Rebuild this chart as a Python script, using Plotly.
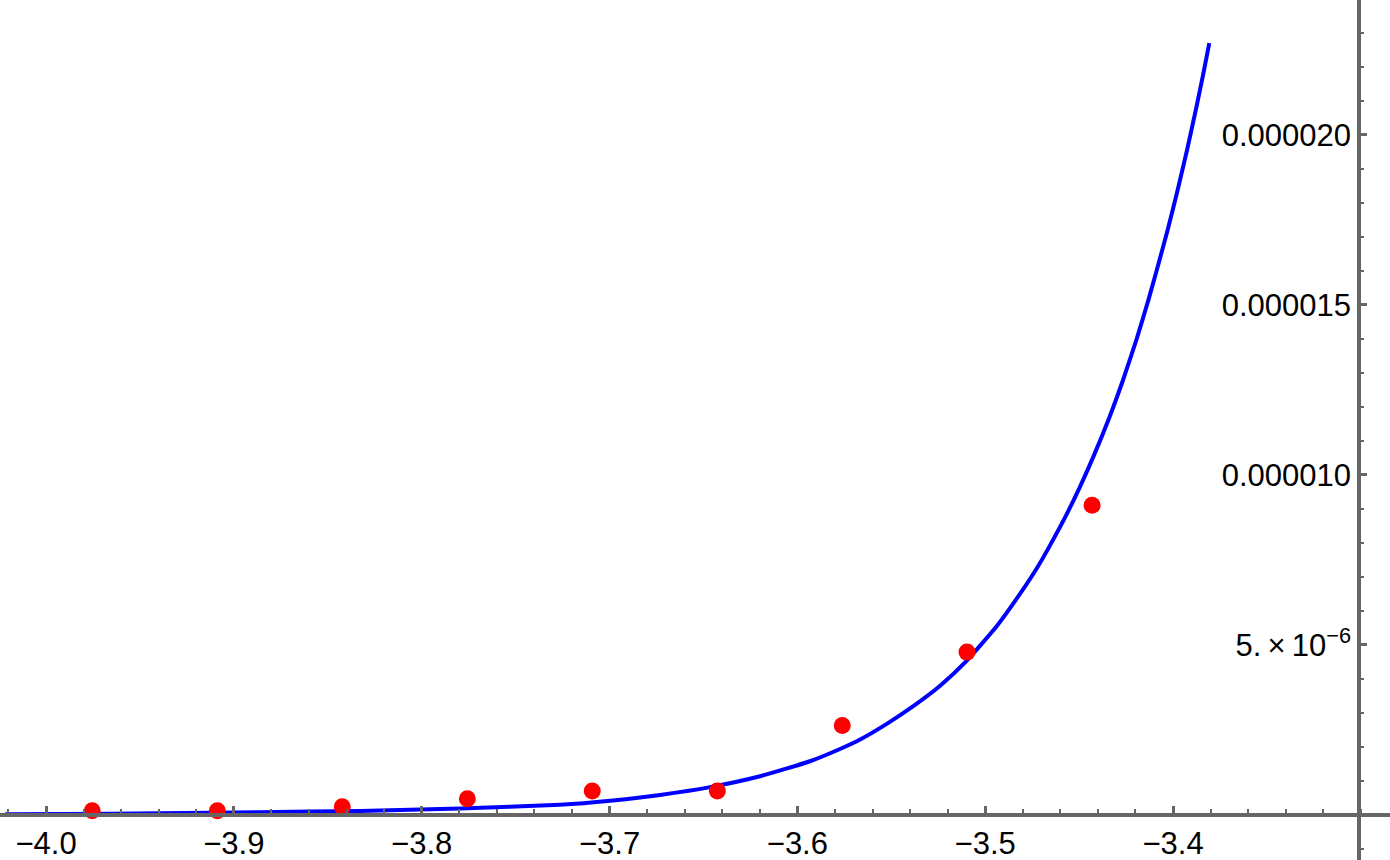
import plotly.graph_objects as go

# Data points (red dots)
pts_x = [-3.9754, -3.9088, -3.8423, -3.7757, -3.7092, -3.6426, -3.5761, -3.5097, -3.4431]
pts_y = [0.126e-6, 0.126e-6, 0.244e-6, 0.479e-6, 0.706e-6, 0.706e-6, 2.63e-6, 4.79e-6, 9.11e-6]

# Fitted curve (blue line)
curve_x = [-4.0218, -3.9925, -3.9393, -3.8861, -3.8328, -3.7796, -3.7264, -3.6997, -3.6731,
           -3.6465, -3.6199, -3.5933, -3.5761, -3.5666, -3.5524, -3.5383, -3.5240, -3.5098,
           -3.4939, -3.4815, -3.4717, -3.4655, -3.4566, -3.4495, -3.4424, -3.4335, -3.4264,
           -3.4193, -3.4131, -3.4087, -3.4033, -3.3980, -3.3927, -3.3874, -3.3839, -3.3807]
curve_y = [0.02e-6, 0.03e-6, 0.05e-6, 0.08e-6, 0.12e-6, 0.19e-6, 0.30e-6, 0.42e-6, 0.59e-6,
           0.82e-6, 1.14e-6, 1.58e-6, 1.97e-6, 2.22e-6, 2.68e-6, 3.20e-6, 3.80e-6, 4.54e-6,
           5.55e-6, 6.50e-6, 7.33e-6, 7.93e-6, 8.85e-6, 9.66e-6, 10.54e-6, 11.75e-6, 12.83e-6,
           14.01e-6, 15.15e-6, 16.02e-6, 17.12e-6, 18.28e-6, 19.52e-6, 20.86e-6, 21.80e-6, 22.70e-6]

x_tickvals = [-4.0, -3.9, -3.8, -3.7, -3.6, -3.5, -3.4]
x_ticktext = ["\u22124.0", "\u22123.9", "\u22123.8", "\u22123.7", "\u22123.6", "\u22123.5", "\u22123.4"]
y_tickvals = [5e-6, 10e-6, 15e-6, 20e-6]
y_ticktext = ["5.\u2009\u00d7\u200910<sup>\u22126</sup>", "0.000010", "0.000015", "0.000020"]

x_range = [-4.0245, -3.2845]
y_range = [-1.324e-6, 23.97e-6]
x_axis_cross = -3.301

axis_color = "#666666"
font = dict(family="Liberation Sans, Arial, sans-serif", size=31, color="black")

fig = go.Figure()
fig.add_trace(go.Scatter(x=curve_x, y=curve_y, mode="lines",
                         line=dict(color="#0000ff", width=4, shape="spline", smoothing=0.5),
                         hoverinfo="skip"))
fig.add_trace(go.Scatter(x=pts_x, y=pts_y, mode="markers",
                         marker=dict(color="#ff0000", size=17, line=dict(width=0))))

ypos_x_axis = (0 - y_range[0]) / (y_range[1] - y_range[0])
xpos_y_axis = (x_axis_cross - x_range[0]) / (x_range[1] - x_range[0])

fig.update_layout(
    width=1390, height=860,
    margin=dict(l=0, r=0, t=0, b=0),
    paper_bgcolor="white", plot_bgcolor="white",
    showlegend=False,
    font=font,
    xaxis=dict(
        range=x_range, anchor="free", position=ypos_x_axis,
        showgrid=False, zeroline=False,
        showline=True, linecolor=axis_color, linewidth=3.5,
        tickmode="array", tickvals=x_tickvals, ticktext=x_ticktext,
        ticks="inside", ticklen=7, tickwidth=2.5, tickcolor=axis_color,
        minor=dict(tickmode="linear", tick0=-4.0, dtick=0.02, ticks="inside",
                   ticklen=4, tickwidth=2, tickcolor=axis_color, showgrid=False),
        tickfont=font,
    ),
    yaxis=dict(
        range=y_range, anchor="free", position=xpos_y_axis, side="left",
        showgrid=False, zeroline=False,
        showline=True, linecolor=axis_color, linewidth=3.5,
        tickmode="array", tickvals=y_tickvals, ticktext=y_ticktext,
        ticks="inside", ticklen=6, tickwidth=2.5, tickcolor=axis_color,
        minor=dict(tickmode="linear", tick0=0, dtick=1e-6, ticks="inside",
                   ticklen=3, tickwidth=2, tickcolor=axis_color, showgrid=False),
        tickfont=font,
    ),
)

fig.write_html("out.html", config={"displayModeBar": False},
               post_script="document.body.style.margin='0px';document.body.style.overflow='hidden';")
